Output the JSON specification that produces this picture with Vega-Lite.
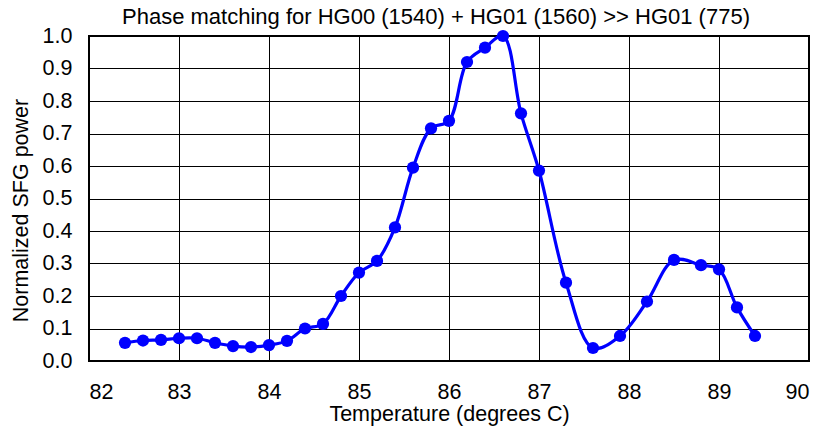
{
  "$schema": "https://vega.github.io/schema/vega-lite/v6.json",
  "autosize": "none",
  "width": 720,
  "height": 325,
  "padding": {"left": 89, "top": 36, "right": 14, "bottom": 69},
  "background": "white",
  "config": {
    "font": "Liberation Sans",
    "view": {"stroke": "black", "strokeWidth": 2},
    "axis": {"gridColor": "black", "gridOpacity": 1, "gridWidth": 1, "domain": false, "ticks": false, "labelFont": "Liberation Sans", "titleFont": "Liberation Sans", "labelFontSize": 21.5, "titleFontSize": 21.5, "labelColor": "black", "titleColor": "black", "titleFontWeight": "normal"}
  },
  "title": {"text": "Phase matching for HG00 (1540) + HG01 (1560) >> HG01 (775)", "font": "Liberation Sans", "fontSize": 22, "fontWeight": "normal", "color": "black", "frame": "group", "offset": -4, "dx": -13},
  "data": {"values": [
    {"t": 82.4, "p": 0.056}, {"t": 82.6, "p": 0.063}, {"t": 82.8, "p": 0.065}, {"t": 83.0, "p": 0.070},
    {"t": 83.2, "p": 0.070}, {"t": 83.4, "p": 0.056}, {"t": 83.6, "p": 0.046}, {"t": 83.8, "p": 0.043},
    {"t": 84.0, "p": 0.049}, {"t": 84.2, "p": 0.062}, {"t": 84.4, "p": 0.100}, {"t": 84.6, "p": 0.114},
    {"t": 84.8, "p": 0.200}, {"t": 85.0, "p": 0.272}, {"t": 85.2, "p": 0.308}, {"t": 85.4, "p": 0.411},
    {"t": 85.6, "p": 0.595}, {"t": 85.8, "p": 0.716}, {"t": 86.0, "p": 0.739}, {"t": 86.2, "p": 0.920},
    {"t": 86.4, "p": 0.964}, {"t": 86.6, "p": 1.0}, {"t": 86.8, "p": 0.762}, {"t": 87.0, "p": 0.586},
    {"t": 87.3, "p": 0.241}, {"t": 87.6, "p": 0.040}, {"t": 87.9, "p": 0.077}, {"t": 88.2, "p": 0.183},
    {"t": 88.5, "p": 0.311}, {"t": 88.8, "p": 0.295}, {"t": 89.0, "p": 0.282}, {"t": 89.2, "p": 0.165},
    {"t": 89.4, "p": 0.077}
  ]},
  "encoding": {
    "x": {"field": "t", "type": "quantitative", "scale": {"domain": [82, 90], "nice": false, "zero": false}, "axis": {"values": [82, 83, 84, 85, 86, 87, 88, 89, 90], "labelPadding": 20, "title": "Temperature (degrees C)", "titlePadding": 1}},
    "y": {"field": "p", "type": "quantitative", "scale": {"domain": [0, 1], "nice": false}, "axis": {"values": [0, 0.1, 0.2, 0.3, 0.4, 0.5, 0.6, 0.7, 0.8, 0.9, 1.0], "format": ".1f", "labelPadding": 17, "title": "Normalized SFG power", "titlePadding": 10, "titleY": 174}}
  },
  "layer": [
    {"mark": {"type": "line", "interpolate": "catmull-rom", "color": "#0000FF", "strokeWidth": 3.2, "clip": false}},
    {"mark": {"type": "circle", "color": "#0000FF", "size": 150, "opacity": 1, "clip": false}}
  ]
}
